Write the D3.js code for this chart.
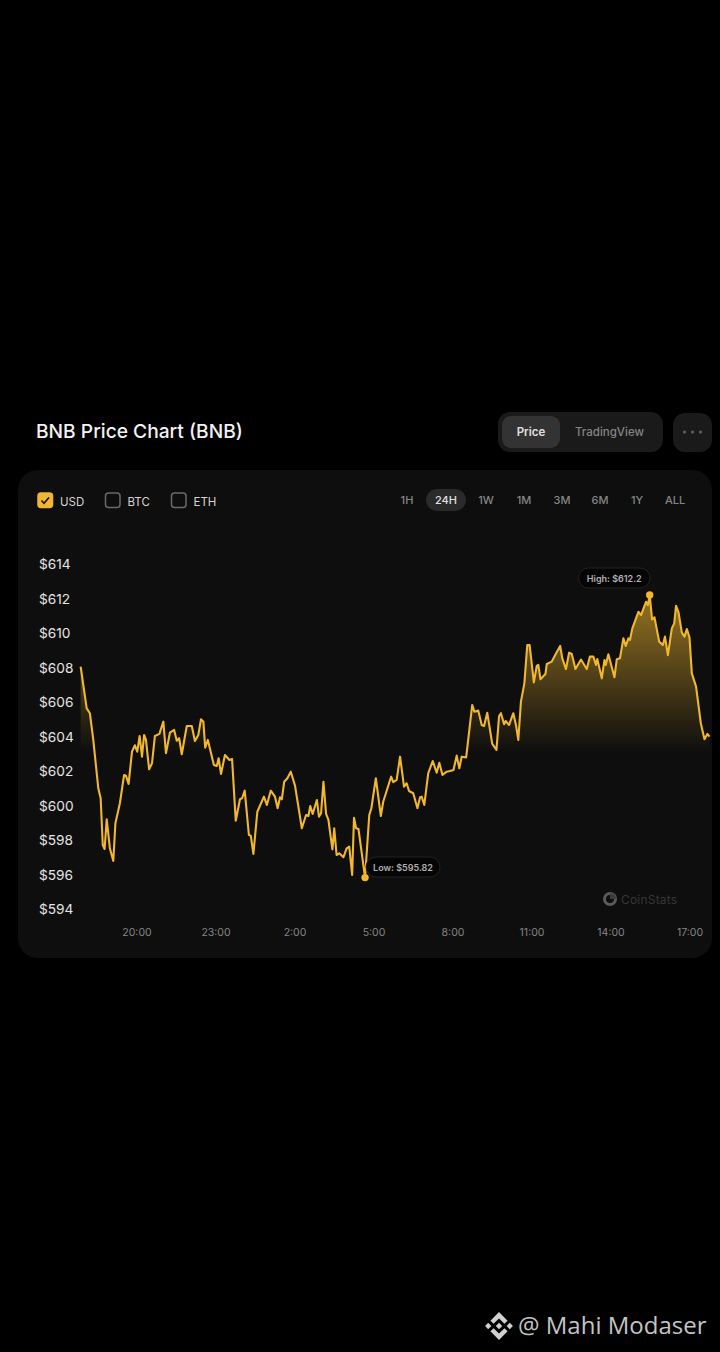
<!DOCTYPE html>
<html>
<head>
<meta charset="utf-8">
<script src="https://cdn.jsdelivr.net/npm/d3@7"></script>
<style>
  html, body { margin: 0; padding: 0; background: #000; }
  svg { display: block; }
  text { font-family: Inter, Roboto, sans-serif; }
</style>
</head>
<body>
<svg id="chart" width="720" height="1352"></svg>
<script>
////////////////////////// DATA //////////////////////////

// hours counted from midnight of the first day (26 = 2:00 next day)
const hours = [
  17.86,18.09,18.21,18.34,18.53,18.62,18.70,18.77,18.85,18.97,19.10,19.18,19.35,19.51,19.58,19.68,
  19.81,19.92,20.01,20.10,20.19,20.27,20.34,20.46,20.57,20.68,20.85,21.00,21.10,21.25,21.41,21.51,
  21.60,21.70,21.89,22.08,22.20,22.33,22.43,22.52,22.59,22.69,22.92,23.03,23.10,23.19,23.34,23.51,
  23.61,23.75,23.91,23.99,24.09,24.25,24.32,24.42,24.57,24.82,24.93,25.08,25.24,25.34,25.43,25.50,
  25.59,25.71,25.84,26.00,26.26,26.42,26.51,26.58,26.67,26.83,26.91,26.99,27.08,27.18,27.27,27.42,
  27.49,27.58,27.68,27.84,27.96,28.06,28.17,28.24,28.32,28.41,28.66,28.82,28.90,29.07,29.26,29.35,
  29.65,29.73,29.86,29.99,30.14,30.24,30.33,30.49,30.65,30.75,30.81,30.91,31.06,31.23,31.38,31.48,
  31.60,31.76,31.89,32.02,32.14,32.24,32.33,32.50,32.73,32.81,32.96,33.09,33.18,33.30,33.49,33.65,
  33.75,33.82,33.94,34.00,34.13,34.29,34.39,34.48,34.58,34.71,34.82,34.91,35.07,35.18,35.24,35.32,
  35.51,35.56,35.75,35.90,36.07,36.15,36.29,36.41,36.51,36.65,36.86,37.08,37.20,37.33,37.43,37.48,
  37.65,37.75,37.80,37.90,38.13,38.22,38.34,38.47,38.56,38.66,38.72,38.81,39.04,39.14,39.33,39.40,
  39.47,39.56,39.65,39.83,39.97,40.05,40.16,40.31,40.40,40.47,40.56,40.69,40.79,40.88,40.98,41.07,
  41.23,41.41,41.55,41.66,41.74
]
const prices = [
  608.05,605.63,605.35,603.80,601.00,600.42,597.71,597.48,599.20,597.52,596.78,598.97,600.13,601.77,601.73,601.25,
  603.12,603.49,603.12,604.03,602.83,604.09,603.80,602.10,602.45,604.03,604.15,604.86,603.03,604.22,604.38,603.76,
  603.90,602.97,604.61,604.61,603.74,604.09,605.00,604.86,603.35,603.80,602.35,602.29,602.74,601.83,602.93,602.64,
  602.70,599.12,600.36,600.42,600.86,598.29,598.25,597.19,599.64,600.51,600.03,600.86,600.51,599.84,600.48,600.36,
  601.38,601.58,601.96,601.15,598.68,599.45,599.39,599.97,599.51,600.32,599.35,599.55,601.38,599.51,599.16,597.46,
  598.68,597.13,597.23,597.00,597.52,597.61,595.97,599.29,598.68,598.64,595.82,599.45,599.84,601.58,599.39,600.22,
  601.67,601.35,601.48,602.83,601.09,601.29,600.84,600.71,599.84,600.48,600.51,600.03,601.87,602.58,601.90,602.48,
  601.77,601.96,602.00,602.06,602.89,602.16,602.83,602.79,605.83,605.44,605.50,604.67,604.61,605.38,603.57,603.22,
  605.19,605.35,604.71,604.90,604.67,605.35,604.67,603.80,606.02,607.08,609.30,609.30,607.14,608.09,608.15,607.32,
  607.62,608.20,608.34,608.78,609.25,608.53,607.91,608.86,608.78,607.91,608.46,607.91,608.63,608.63,608.15,608.49,
  607.37,608.43,608.15,608.77,607.43,608.48,608.53,609.69,609.25,609.69,609.59,610.27,611.23,611.04,611.81,611.62,
  612.20,610.79,610.91,609.50,609.30,609.79,608.72,610.27,610.56,611.57,611.23,610.02,609.79,610.23,609.75,607.66,
  606.89,604.77,603.84,604.15,603.99
]

const yTicks = [594, 596, 598, 600, 602, 604, 606, 608, 610, 612, 614]
const xTicks = [20, 23, 26, 29, 32, 35, 38, 41]
const currencies = ['USD', 'BTC', 'ETH']
const currencyX = [37, 104.5, 170.5]
const ranges = ['1H', '24H', '1W', '1M', '3M', '6M', '1Y', 'ALL']
const rangeX = [407, 446, 486, 524, 562, 600, 637, 675]
const lowHour = 28.66, lowPrice = 595.82
const highHour = 39.47, highPrice = 612.2

////////////////////////// SETUP //////////////////////////

const svg = d3.select('#chart')
const points = hours.map((h, i) => ({ h: h, p: prices[i] }))

const xScale = d3.scaleLinear().domain([20, 41]).range([137, 690])
const yScale = d3.scaleLinear().domain([594, 614]).range([909, 564])

const gold = '#f0b72f'

// gradient under the line, fixed to the plot and not to the shape
const grad = svg.append('defs').append('linearGradient')
  .attr('id', 'areaFill')
  .attr('gradientUnits', 'userSpaceOnUse')
  .attr('x1', 0).attr('x2', 0)
  .attr('y1', yScale(highPrice)).attr('y2', yScale(603.1))
grad.append('stop').attr('offset', 0).attr('stop-color', gold).attr('stop-opacity', 0.6)
grad.append('stop').attr('offset', 1).attr('stop-color', gold).attr('stop-opacity', 0)

////////////////////////// HEADER //////////////////////////

svg.append('text')
  .attr('x', 36).attr('y', 438)
  .attr('font-size', 19.2).attr('font-weight', 500)
  .attr('fill', '#f2f2f2')
  .text('BNB Price Chart (BNB)')

svg.append('rect').attr('x', 498).attr('y', 412).attr('width', 165).attr('height', 40).attr('rx', 12).attr('fill', '#1a1a1a')
svg.append('rect').attr('x', 502).attr('y', 416).attr('width', 58).attr('height', 32).attr('rx', 9).attr('fill', '#333333')
svg.append('text').attr('x', 531).attr('y', 436).attr('text-anchor', 'middle')
  .attr('font-size', 11.5).attr('font-weight', 600).attr('fill', '#e0e0e0').text('Price')
svg.append('text').attr('x', 609.5).attr('y', 436).attr('text-anchor', 'middle')
  .attr('font-size', 11.5).attr('font-weight', 500).attr('fill', '#858585').text('TradingView')

svg.append('rect').attr('x', 673).attr('y', 413).attr('width', 39).attr('height', 39).attr('rx', 12).attr('fill', '#1a1a1a')
svg.selectAll('.dot-menu')
  .data([-8, 0, 8])
  .enter()
  .append('circle')
  .attr('class', 'dot-menu')
  .attr('cx', (d) => 692.5 + d).attr('cy', 432).attr('r', 1.5)
  .attr('fill', '#666')

////////////////////////// CARD //////////////////////////

svg.append('rect').attr('x', 18).attr('y', 470).attr('width', 694).attr('height', 488).attr('rx', 20).attr('fill', '#0e0e0e')

// currency checkboxes
svg.selectAll('.cur-box')
  .data(currencies)
  .enter()
  .append('rect')
  .attr('class', 'cur-box')
  .attr('x', (d, i) => currencyX[i] + 1).attr('y', 493)
  .attr('width', 14.5).attr('height', 14.5).attr('rx', 3)
  .attr('fill', (d, i) => i === 0 ? gold : 'none')
  .attr('stroke', (d, i) => i === 0 ? gold : '#6a6a6a')
  .attr('stroke-width', 1.5)

svg.append('path')
  .attr('d', 'M41.5 500.5 L44 503.2 L49 497.5')
  .attr('fill', 'none').attr('stroke', '#111').attr('stroke-width', 1.6)

svg.selectAll('.cur-label')
  .data(currencies)
  .enter()
  .append('text')
  .attr('class', 'cur-label')
  .attr('x', (d, i) => currencyX[i] + 23).attr('y', 505.5)
  .attr('font-size', 11.5).attr('fill', '#d4d4d4')
  .text((d) => d)

// time range buttons
svg.append('rect').attr('x', 426).attr('y', 489).attr('width', 40).attr('height', 22).attr('rx', 11).attr('fill', '#2a2a2a')
svg.selectAll('.range-label')
  .data(ranges)
  .enter()
  .append('text')
  .attr('class', 'range-label')
  .attr('x', (d, i) => rangeX[i]).attr('y', 504)
  .attr('text-anchor', 'middle')
  .attr('font-size', 11).attr('font-weight', 500)
  .attr('fill', (d) => d === '24H' ? '#e0e0e0' : '#858585')
  .text((d) => d)

////////////////////////// AXES //////////////////////////

const yAxis = d3.axisLeft(yScale).tickValues(yTicks).tickSize(0).tickFormat((d) => `$${d}`)
const yG = svg.append('g').attr('transform', 'translate(39,0.5)').call(yAxis)
yG.select('.domain').remove()
yG.selectAll('text')
  .attr('x', 0).attr('text-anchor', 'start')
  .attr('font-size', 13.7).attr('fill', '#e4e4e4')
  .style('font-family', 'Inter, Roboto, sans-serif')

const xAxis = d3.axisBottom(xScale).tickValues(xTicks).tickSize(0).tickFormat((d) => `${d % 24}:00`)
const xG = svg.append('g').attr('transform', 'translate(-0.5,925.5)').call(xAxis)
xG.select('.domain').remove()
xG.selectAll('text')
  .attr('font-size', 10.5).attr('fill', '#858585')
  .style('font-family', 'Inter, Roboto, sans-serif')

////////////////////////// LINE //////////////////////////

const area = d3.area().x((d) => xScale(d.h)).y0(yScale(594)).y1((d) => yScale(d.p))
const line = d3.line().x((d) => xScale(d.h)).y((d) => yScale(d.p))

svg.append('path').datum(points).attr('d', area).attr('fill', 'url(#areaFill)')
svg.append('path').datum(points).attr('d', line)
  .attr('fill', 'none').attr('stroke', gold).attr('stroke-width', 2.1).attr('stroke-linejoin', 'round')

// watermark
const wmX = 610, wmY = 899
svg.append('circle').attr('cx', wmX).attr('cy', wmY).attr('r', 5.5)
  .attr('fill', 'none').attr('stroke', '#5a5a5a').attr('stroke-width', 3)
svg.append('path').attr('d', `M${wmX} ${wmY} L${wmX} ${wmY - 6} A6 6 0 0 1 ${wmX + 6} ${wmY} Z`).attr('fill', '#3c3c3c')
svg.append('text').attr('x', 621).attr('y', 903.5)
  .attr('font-size', 12).attr('letter-spacing', 0.2).attr('fill', '#363636').text('CoinStats')

////////////////////////// LOW / HIGH MARKERS //////////////////////////

const marker = (h, p, label, boxX, boxY, boxW) => {
  svg.append('rect')
    .attr('x', boxX).attr('y', boxY).attr('width', boxW).attr('height', 20).attr('rx', 10)
    .attr('fill', '#050505').attr('stroke', '#222').attr('stroke-width', 1)
  svg.append('text')
    .attr('x', boxX + boxW / 2).attr('y', boxY + 13.5)
    .attr('text-anchor', 'middle')
    .attr('font-size', 9).attr('font-weight', 600).attr('fill', '#b0b0b0')
    .text(label)
  svg.append('circle').attr('cx', xScale(h)).attr('cy', yScale(p)).attr('r', 3.7).attr('fill', gold)
}

marker(lowHour, lowPrice, `Low: $${lowPrice}`, 366, 857, 74)
marker(highHour, highPrice, `High: $${highPrice}`, 578.5, 568, 71.5)

////////////////////////// FOOTER //////////////////////////

svg.append('path')
  .attr('transform', 'translate(485,1312) scale(0.875)')
  .attr('d', 'M9.79 13.5 16 7.29l6.21 6.21 3.61-3.61L16 0.07 6.18 9.89zM0.07 16l3.61-3.61L7.29 16l-3.61 3.61zM9.79 18.5 16 24.71l6.21-6.21 3.61 3.6L16 31.93 6.18 22.11zM24.71 16l3.61-3.61L31.93 16l-3.61 3.61zM19.66 16 16 12.34 12.34 16 16 19.66z')
  .attr('fill', '#d0d0d0')

svg.append('text')
  .attr('x', 518).attr('y', 1334)
  .attr('font-size', 24).attr('fill', '#c4c4c4')
  .style('font-family', '"Open Sans", "Noto Sans", sans-serif')
  .text('@ Mahi Modaser')
</script>
</body>
</html>
